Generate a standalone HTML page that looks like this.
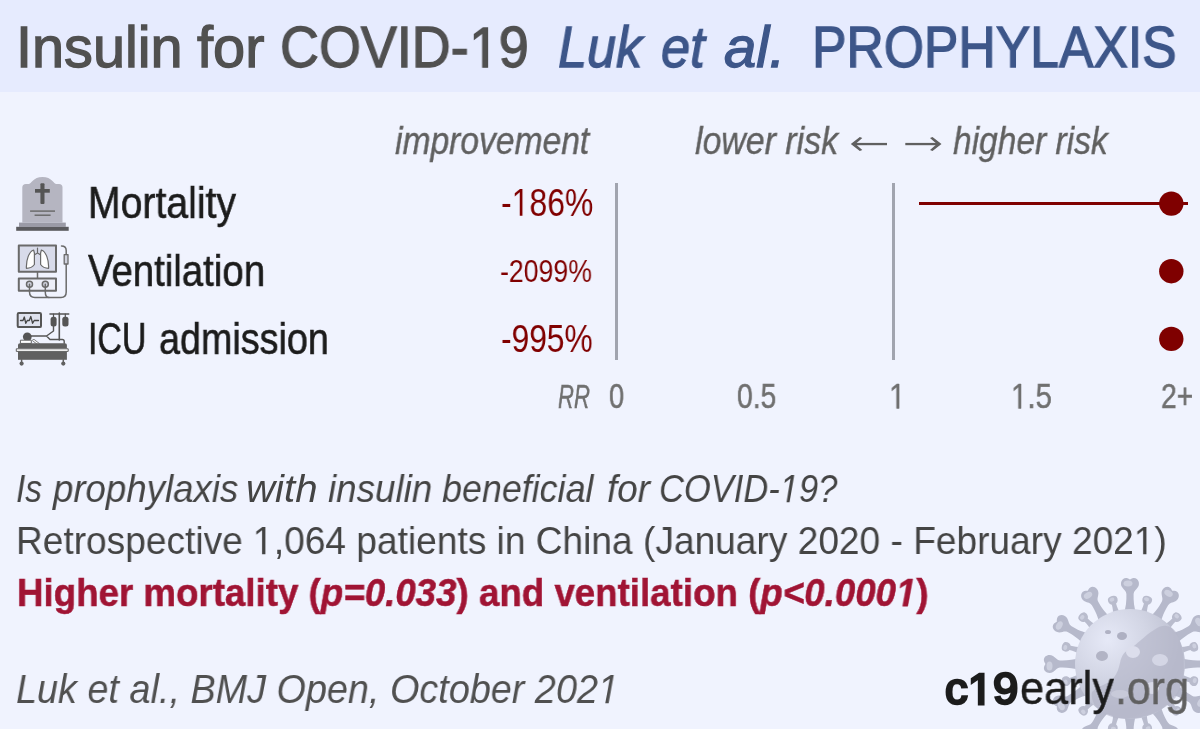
<!DOCTYPE html>
<html><head><meta charset="utf-8">
<style>
html,body{margin:0;padding:0;}
body{width:1200px;height:731px;overflow:hidden;position:relative;background:#f0f3fe;font-family:"Liberation Sans",sans-serif;}
.hdr{position:absolute;left:0;top:0;width:1200px;height:92px;background:#e6ebfe;}
.bot{position:absolute;left:0;top:729px;width:1200px;height:2px;background:#fff;}
.t{position:absolute;white-space:nowrap;line-height:1;transform-origin:0 0;will-change:transform;}
.vl{position:absolute;width:2.8px;background:#a1a4af;}
svg.ov{position:absolute;left:0;top:0;}
</style></head>
<body>
<div class="hdr"></div>

<svg class="ov" width="1200" height="731" viewBox="0 0 1200 731">
<defs>
<radialGradient id="sph" cx="0.3" cy="0.28" r="0.9">
<stop offset="0" stop-color="#e6e9f7"/>
<stop offset="0.4" stop-color="#d2d5e4"/>
<stop offset="0.75" stop-color="#bcbfd0"/>
<stop offset="1" stop-color="#c6c9d9"/>
</radialGradient>
<g id="bigspike">
<path d="M-6.5,-49 C-4,-57 -3.4,-63 -3.6,-70 C-3.8,-73 -6,-74 -8,-77 C-10.5,-81 -8,-87 -3,-86 C-1.5,-85.5 -0.8,-85 0,-84.5 C0.8,-85 1.5,-85.5 3,-86 C8,-87 10.5,-81 8,-77 C6,-74 3.8,-73 3.6,-70 C3.4,-63 4,-57 6.5,-49 Z" fill="#b6b9cb"/>
<ellipse cx="-2" cy="-80.5" rx="4.5" ry="3" fill="#cdd0df"/>
</g>
<g id="smallspike">
<path d="M-4,-50 C-2.6,-55 -2.2,-58 -2.2,-62 C-4.5,-63 -5.5,-66 -4.5,-68.5 C-3,-71 3,-71 4.5,-68.5 C5.5,-66 4.5,-63 2.2,-62 C2.2,-58 2.6,-55 4,-50 Z" fill="#b9bccd"/>
<ellipse cx="-0.8" cy="-66.8" rx="2.5" ry="2" fill="#cdd0df"/>
</g>
</defs>
<g id="virus" transform="translate(1130,664)">
<use href="#bigspike" transform="rotate(0)"/>
<use href="#bigspike" transform="rotate(30)"/>
<use href="#bigspike" transform="rotate(60)"/>
<use href="#bigspike" transform="rotate(90)"/>
<use href="#bigspike" transform="rotate(120)"/>
<use href="#bigspike" transform="rotate(150)"/>
<use href="#bigspike" transform="rotate(180)"/>
<use href="#bigspike" transform="rotate(210)"/>
<use href="#bigspike" transform="rotate(240)"/>
<use href="#bigspike" transform="rotate(270)"/>
<use href="#bigspike" transform="rotate(300)"/>
<use href="#bigspike" transform="rotate(330)"/>
<use href="#smallspike" transform="rotate(15)"/>
<use href="#smallspike" transform="rotate(45)"/>
<use href="#smallspike" transform="rotate(75)"/>
<use href="#smallspike" transform="rotate(105)"/>
<use href="#smallspike" transform="rotate(135)"/>
<use href="#smallspike" transform="rotate(165)"/>
<use href="#smallspike" transform="rotate(195)"/>
<use href="#smallspike" transform="rotate(225)"/>
<use href="#smallspike" transform="rotate(255)"/>
<use href="#smallspike" transform="rotate(285)"/>
<use href="#smallspike" transform="rotate(315)"/>
<use href="#smallspike" transform="rotate(345)"/>
<circle r="55" fill="url(#sph)"/>
<path d="M-38,28 C-30,20 -22,22 -15,12 C-8,2 -12,-8 -2,-14 C8,-20 14,-28 24,-34 C32,-40 40,-40 46,-32 C56,-12 57,16 46,33 C32,50 8,57 -14,54 C-30,50 -40,40 -38,28 Z" fill="#b3b6c8" opacity="0.65"/>
<ellipse cx="-8" cy="-28" rx="5" ry="4" fill="#aeb0c2"/>
<ellipse cx="-22" cy="-32" rx="3" ry="2" fill="#b0b2c4"/>
<ellipse cx="-28" cy="-8" rx="6" ry="5" fill="#b2b4c5"/>
<ellipse cx="3" cy="-12" rx="7" ry="6" fill="#dcdeec"/>
<ellipse cx="30" cy="-4" rx="8" ry="6" fill="#d4d6e5"/>
<ellipse cx="22" cy="24" rx="7" ry="6" fill="#d8dae8"/>
<ellipse cx="-10" cy="30" rx="9" ry="4" fill="#c8cad9"/>
</g>

<!-- tombstone -->
<g>
<path d="M22.3,222.6 V187.5 Q22.3,184 26,184 L28.5,184 C31.5,184 33,177 42.5,177 C52,177 53.5,184 56.5,184 L59,184 Q62.5,184 62.5,187.5 V222.6 Z" fill="#b5b5c1"/>
<rect x="19" y="222.6" width="46.8" height="4.2" fill="#9a9aa6"/>
<rect x="16.2" y="226.8" width="52.5" height="4" fill="#5a5a5e"/>
<rect x="40.4" y="183.2" width="4.1" height="20.9" rx="1" fill="#555"/>
<rect x="35" y="189" width="14.8" height="3.7" fill="#555"/>
<rect x="30.1" y="210.4" width="24.9" height="1.4" fill="#666"/>
<rect x="34.6" y="214.5" width="16" height="1.4" fill="#666"/>
</g>

<!-- ventilator -->
<g stroke="#6a6a6a" stroke-linecap="round" stroke-linejoin="round">
<rect x="18.8" y="245.5" width="37.2" height="26.3" fill="#d8dbea" stroke-width="2"/>
<path d="M33.6,250 C29,251.5 26,260 26.4,268.3 C29.5,268.3 33,266.5 34.4,264.5 L34.4,253 Z" fill="#fff" stroke-width="1.2"/>
<path d="M41.4,250 C46,251.5 49,260 48.6,268.3 C45.5,268.3 42,266.5 40.6,264.5 L40.6,253 Z" fill="#fff" stroke-width="1.2"/>
<path d="M37.5,248 V253 M37.5,253 L35,254.5 M37.5,253 L40,254.5" fill="none" stroke-width="1.2"/>
<path d="M37.5,271.8 V278.4" fill="none" stroke-width="1.5"/>
<rect x="18.8" y="278.4" width="37.2" height="12.3" fill="#eceef8" stroke-width="2"/>
<circle cx="29.5" cy="284.3" r="3" fill="#cfd1dd" stroke-width="1.5"/>
<circle cx="45.3" cy="284.3" r="3" fill="#cfd1dd" stroke-width="1.5"/>
<path d="M29.5,284.3 V292 Q29.5,297.5 35,297.5 H61 Q66.2,297.5 66.2,292 V264" fill="none" stroke-width="1.5"/>
<path d="M45.3,284.3 V292 Q45.3,297.5 49,297.5" fill="none" stroke-width="1.5"/>
<rect x="64.2" y="254.6" width="3.8" height="9.4" fill="#d0d2de" stroke-width="1.3"/>
<path d="M66.2,254.6 V250.5 Q66.2,246 61.5,246" fill="none" stroke-width="1.5"/>
</g>

<!-- ICU -->
<g stroke-linecap="round" stroke-linejoin="round">
<rect x="17.7" y="313.1" width="23.3" height="14" rx="1.2" fill="#dfe2ee" stroke="#555" stroke-width="2"/>
<path d="M20.5,320.5 H23 L24.3,317 L25.8,323.3 L27.3,320.5 H29.3 L30.8,316.5 L32.6,323.3 L34.2,320.5 H38.5" fill="none" stroke="#444" stroke-width="1.3"/>
<path d="M59.3,313 V340 M50,314 H68.7" stroke="#555" stroke-width="1.6" fill="none"/>
<path d="M53.5,314 V317 M65.3,314 V317" stroke="#555" stroke-width="1.2"/>
<rect x="50.6" y="316.8" width="6" height="9.6" rx="2.5" fill="#555"/>
<rect x="62.3" y="316.8" width="6.2" height="9.6" rx="2.5" fill="#555"/>
<path d="M53.5,326 V331 L46.5,336 H31 M46.5,336 L50,339.5 H62.3 Q64.2,339.5 64.2,341.3 V343.2" stroke="#555" stroke-width="1.4" fill="none"/>
<circle cx="27.3" cy="336.8" r="4.4" fill="#555"/>
<rect x="20.8" y="340.2" width="10.5" height="3.2" fill="#fff" stroke="#666" stroke-width="1"/>
<path d="M33.6,340.3 L38.4,344" stroke="#666" stroke-width="2.6"/>
<path d="M33.6,340.3 L38.4,344" stroke="#fff" stroke-width="1.2"/>
<path d="M18,348.6 V345 Q18,343.2 20,343.2 H64.9 Q66.9,343.2 66.9,345 V348.6 Z" fill="#606060"/>
<rect x="16.7" y="348.8" width="51.5" height="2.6" fill="#fff" stroke="#606060" stroke-width="1"/>
<rect x="18" y="351.6" width="48.9" height="8.2" fill="#606060"/>
<path d="M21.6,359.7 V361.5 M63.3,359.7 V361.5" stroke="#606060" stroke-width="1.5"/>
<circle cx="21.6" cy="363.6" r="2.1" fill="#606060"/>
<circle cx="63.3" cy="363.6" r="2.1" fill="#606060"/>
</g>

<!-- arrows -->
<g fill="#606060">
<rect x="853" y="142.9" width="34" height="2.3"/>
<path d="M850.8,144 L859.8,136.9 L862.3,137.9 L855.5,144 L862.3,150.1 L859.8,151.1 Z"/>
<rect x="905.3" y="142.9" width="34" height="2.3"/>
<path d="M941.5,144 L932.5,136.9 L930,137.9 L936.8,144 L930,150.1 L932.5,151.1 Z"/>
</g>

<!-- forest -->
<line x1="919" y1="203.5" x2="1188" y2="203.5" stroke="#7f0000" stroke-width="2.9"/>
<circle cx="1171.3" cy="203.6" r="12.2" fill="#7f0000"/>
<circle cx="1171.3" cy="271.2" r="12.2" fill="#7f0000"/>
<circle cx="1171.3" cy="338.9" r="12.2" fill="#7f0000"/>
</svg>

<div class="vl" style="left:615.4px;top:183px;height:176.5px;"></div>
<div class="vl" style="left:892.3px;top:183px;height:176.5px;"></div>

<div id="title1a" class="t" style="left:15.95px;top:19.04px;font-size:57px;color:#505050;-webkit-text-stroke:1.3px #505050;transform:scaleX(1.0114);">Insulin</div>
<div id="title1b" class="t" style="left:197.20px;top:19.04px;font-size:57px;color:#505050;-webkit-text-stroke:1.3px #505050;transform:scaleX(1.0134);">for</div>
<div id="title1c" class="t" style="left:280.11px;top:19.04px;font-size:57px;color:#505050;-webkit-text-stroke:1.3px #505050;transform:scaleX(0.9459);">COVID-<svg viewBox="0 0 1139 1409" style="width:0.5562em;height:0.688em;vertical-align:baseline;overflow:visible;display:inline-block"><path d="M515,1409 L515,172 L197,399 L197,229 L530,0 L696,0 L696,1409 Z" fill="currentColor" stroke="currentColor" stroke-width="46.7"/></svg>9</div>
<div id="title2a" class="t" style="left:558.47px;top:19.04px;font-size:57px;color:#3d5689;font-style:italic;-webkit-text-stroke:1.3px #3d5689;transform:scaleX(0.9137);">Luk</div>
<div id="title2b" class="t" style="left:661.27px;top:19.04px;font-size:57px;color:#3d5689;font-style:italic;-webkit-text-stroke:1.3px #3d5689;transform:scaleX(0.9180);">et</div>
<div id="title2c" class="t" style="left:724.00px;top:19.04px;font-size:57px;color:#3d5689;font-style:italic;-webkit-text-stroke:1.3px #3d5689;transform:scaleX(1.0185);">al.</div>
<div id="title3" class="t" style="left:812.37px;top:19.04px;font-size:57px;color:#3d5689;-webkit-text-stroke:1.3px #3d5689;transform:scaleX(0.9063);">PROPHYLAXIS</div>
<div id="impr" class="t" style="left:394.74px;top:120.58px;font-size:39px;color:#606060;font-style:italic;-webkit-text-stroke:0.4px #606060;transform:scaleX(0.8617);">improvement</div>
<div id="risk1" class="t" style="left:695.00px;top:120.58px;font-size:39px;color:#606060;font-style:italic;-webkit-text-stroke:0.4px #606060;transform:scaleX(0.8683);">lower risk</div>
<div id="risk2" class="t" style="left:953.26px;top:120.58px;font-size:39px;color:#606060;font-style:italic;-webkit-text-stroke:0.4px #606060;transform:scaleX(0.8593);">higher risk</div>
<div id="lab1" class="t" style="left:87.64px;top:180.00px;font-size:45px;color:#1c1c1c;-webkit-text-stroke:0.6px #1c1c1c;transform:scaleX(0.8707);">Mortality</div>
<div id="lab2" class="t" style="left:88.00px;top:247.80px;font-size:45px;color:#1c1c1c;-webkit-text-stroke:0.6px #1c1c1c;transform:scaleX(0.8529);">Ventilation</div>
<div id="lab3a" class="t" style="left:88.39px;top:315.70px;font-size:45px;color:#1c1c1c;-webkit-text-stroke:0.6px #1c1c1c;transform:scaleX(0.7528);">ICU</div>
<div id="lab3b" class="t" style="left:159.35px;top:315.70px;font-size:45px;color:#1c1c1c;-webkit-text-stroke:0.6px #1c1c1c;transform:scaleX(0.8387);">admission</div>
<div id="pct1" class="t" style="left:500.64px;top:182.98px;font-size:39px;color:#800000;transform:scaleX(0.8189);">-<svg viewBox="0 0 1139 1409" style="width:0.5562em;height:0.688em;vertical-align:baseline;overflow:visible;display:inline-block"><path d="M515,1409 L515,172 L197,399 L197,229 L530,0 L696,0 L696,1409 Z" fill="currentColor"/></svg>86%</div>
<div id="pct2" class="t" style="left:499.88px;top:256.15px;font-size:31px;color:#800000;transform:scaleX(0.8610);">-2099%</div>
<div id="pct3" class="t" style="left:500.64px;top:318.98px;font-size:39px;color:#800000;transform:scaleX(0.8135);">-995%</div>
<div id="rr" class="t" style="left:558.00px;top:379.54px;font-size:33.5px;color:#707070;font-style:italic;-webkit-text-stroke:0.5px #707070;transform:scaleX(0.6596);">RR</div>
<div id="ax0" class="t" style="left:608.77px;top:378.94px;font-size:35.5px;color:#707070;-webkit-text-stroke:0.5px #707070;transform:scaleX(0.7611);">0</div>
<div id="ax05" class="t" style="left:736.56px;top:378.94px;font-size:35.5px;color:#707070;-webkit-text-stroke:0.5px #707070;transform:scaleX(0.7979);">0.5</div>
<div id="ax1" class="t" style="left:889.11px;top:378.94px;font-size:35.5px;color:#707070;-webkit-text-stroke:0.5px #707070;transform:scaleX(0.8400);"><svg viewBox="0 0 1139 1409" style="width:0.5562em;height:0.688em;vertical-align:baseline;overflow:visible;display:inline-block"><path d="M515,1409 L515,172 L197,399 L197,229 L530,0 L696,0 L696,1409 Z" fill="currentColor" stroke="currentColor" stroke-width="28.8"/></svg></div>
<div id="ax15" class="t" style="left:1010.51px;top:378.94px;font-size:35.5px;color:#707070;-webkit-text-stroke:0.5px #707070;transform:scaleX(0.8311);"><svg viewBox="0 0 1139 1409" style="width:0.5562em;height:0.688em;vertical-align:baseline;overflow:visible;display:inline-block"><path d="M515,1409 L515,172 L197,399 L197,229 L530,0 L696,0 L696,1409 Z" fill="currentColor" stroke="currentColor" stroke-width="28.8"/></svg>.5</div>
<div id="ax2" class="t" style="left:1160.66px;top:378.94px;font-size:35.5px;color:#707070;-webkit-text-stroke:0.5px #707070;transform:scaleX(0.7974);">2+</div>
<div id="l1_0" class="t" style="left:15.79px;top:468.76px;font-size:39.5px;color:#444;font-style:italic;transform:scaleX(0.8448);">Is</div>
<div id="l1_1" class="t" style="left:52.96px;top:468.76px;font-size:39.5px;color:#444;font-style:italic;transform:scaleX(0.9275);">prophylaxis</div>
<div id="l1_2" class="t" style="left:245.95px;top:468.76px;font-size:39.5px;color:#444;font-style:italic;transform:scaleX(1.0194);">with</div>
<div id="l1_3" class="t" style="left:327.81px;top:468.76px;font-size:39.5px;color:#444;font-style:italic;transform:scaleX(0.9309);">insulin</div>
<div id="l1_4" class="t" style="left:442.05px;top:468.76px;font-size:39.5px;color:#444;font-style:italic;transform:scaleX(0.9077);">beneficial</div>
<div id="l1_5" class="t" style="left:606.65px;top:468.76px;font-size:39.5px;color:#444;font-style:italic;transform:scaleX(0.9298);">for</div>
<div id="l1_6" class="t" style="left:659.32px;top:468.76px;font-size:39.5px;color:#444;font-style:italic;transform:scaleX(0.8738);">COVID-<svg viewBox="0 0 1139 1409" style="width:0.5562em;height:0.688em;vertical-align:baseline;overflow:visible;display:inline-block"><path d="M409.5,1409 L650,186 L289,409 L324,229 L701,0 L867,0 L590.5,1409 Z" fill="currentColor"/></svg>9?</div>
<div id="l2" class="t" style="left:16.38px;top:520.56px;font-size:39.5px;color:#444;transform:scaleX(0.9393);">Retrospective <svg viewBox="0 0 1139 1409" style="width:0.5562em;height:0.688em;vertical-align:baseline;overflow:visible;display:inline-block"><path d="M515,1409 L515,172 L197,399 L197,229 L530,0 L696,0 L696,1409 Z" fill="currentColor"/></svg>,064 patients in China (January 2020 - February 202<svg viewBox="0 0 1139 1409" style="width:0.5562em;height:0.688em;vertical-align:baseline;overflow:visible;display:inline-block"><path d="M515,1409 L515,172 L197,399 L197,229 L530,0 L696,0 L696,1409 Z" fill="currentColor"/></svg>)</div>
<div id="l3" class="t" style="left:17.14px;top:572.76px;font-size:39.5px;color:#a01434;font-weight:bold;-webkit-text-stroke:0.5px #a01434;transform:scaleX(0.9291);">Higher mortality (<i>p=0.033</i>) and ventilation (<i>p&lt;0.000<svg viewBox="0 0 1139 1409" style="width:0.5562em;height:0.688em;vertical-align:baseline;overflow:visible;display:inline-block"><path d="M375.9,1409 L604,257 L223,471 L270,229 L666,0 L936,0 L656.9,1409 Z" fill="currentColor" stroke="currentColor" stroke-width="25.9"/></svg></i>)</div>
<div id="cite" class="t" style="left:16.31px;top:668.89px;font-size:41px;color:#505050;font-style:italic;transform:scaleX(0.9219);">Luk et al., BMJ Open, October 202<svg viewBox="0 0 1139 1409" style="width:0.5562em;height:0.688em;vertical-align:baseline;overflow:visible;display:inline-block"><path d="M409.5,1409 L650,186 L289,409 L324,229 L701,0 L867,0 L590.5,1409 Z" fill="currentColor"/></svg></div>
<div id="logo1" class="t" style="left:944.98px;top:666.75px;font-size:44px;color:#1c1c1c;-webkit-text-stroke:2.6px #1c1c1c;transform:scaleX(1.0338);">c<svg viewBox="0 0 1139 1409" style="width:0.5562em;height:0.688em;vertical-align:baseline;overflow:visible;display:inline-block"><path d="M515,1409 L515,172 L197,399 L197,229 L530,0 L696,0 L696,1409 Z" fill="currentColor" stroke="currentColor" stroke-width="121.0"/></svg>9</div>
<div id="logo2" class="t" style="left:1020.47px;top:665.45px;font-size:46px;color:#1c1c1c;-webkit-text-stroke:0.4px #1c1c1c;transform:scaleX(0.9424);">early</div>
<div id="logo3" class="t" style="left:1115.04px;top:665.45px;font-size:46px;color:#606060;-webkit-text-stroke:0.4px #606060;transform:scaleX(0.9329);">.org</div>

<div class="bot"></div>
</body></html>
